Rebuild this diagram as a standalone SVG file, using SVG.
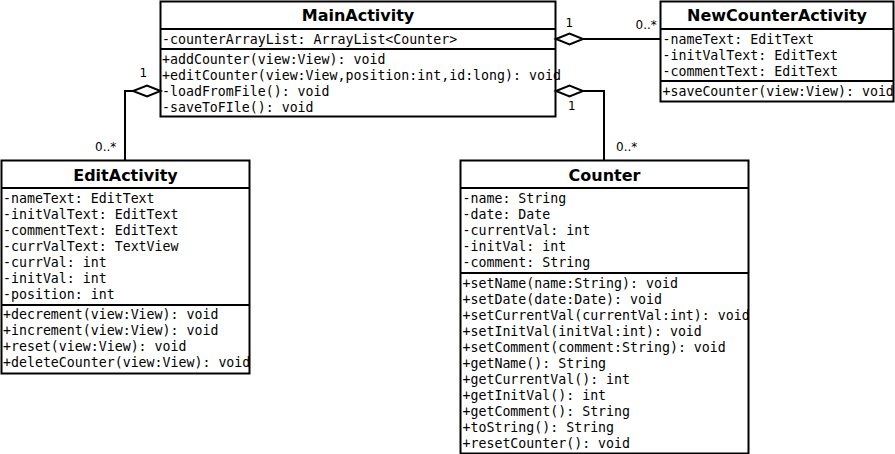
<svg xmlns="http://www.w3.org/2000/svg" width="895" height="454" viewBox="0 0 895 454">
<style>
.bg{fill:#fff;stroke:none}
.fr{fill:none;stroke:#000;stroke-width:2}
.sep{stroke:#000;stroke-width:2}
.title{font-family:"DejaVu Sans",sans-serif;font-weight:bold;font-size:16px;text-anchor:middle;fill:#000}
.m{font-family:"DejaVu Sans Mono",monospace;font-size:13.25px;fill:#000}
.lbl{font-family:"DejaVu Sans",sans-serif;font-size:12px;fill:#000}
.ln{fill:none;stroke:#000;stroke-width:2}
.dia{fill:#fff;stroke:#000;stroke-width:2;stroke-linejoin:miter}
</style>
<rect width="895" height="454" fill="#fff"/>

<g id="MainActivity">
<rect class="bg" x="160.5" y="1.5" width="395" height="115"/>
<text class="title" x="358" y="21">MainActivity</text>
<text class="m" x="162" y="43.5">-counterArrayList: ArrayList&lt;Counter&gt;</text>
<text class="m" x="162" y="63.5">+addCounter(view:View): void</text>
<text class="m" x="162" y="79.5">+editCounter(view:View,position:int,id:long): void</text>
<text class="m" x="162" y="95.5">-loadFromFile(): void</text>
<text class="m" x="162" y="111.5">-saveToFIle(): void</text>
<line class="sep" x1="160.5" y1="29" x2="555.5" y2="29"/>
<line class="sep" x1="160.5" y1="49" x2="555.5" y2="49"/>
<rect class="fr" x="160.5" y="1.5" width="395" height="115"/>
</g>

<g id="NewCounterActivity">
<rect class="bg" x="660.5" y="1.5" width="233" height="100"/>
<text class="title" x="777" y="20.5">NewCounterActivity</text>
<text class="m" x="662.5" y="43.5">-nameText: EditText</text>
<text class="m" x="662.5" y="59.5">-initValText: EditText</text>
<text class="m" x="662.5" y="75.5">-commentText: EditText</text>
<text class="m" x="662.5" y="95.5">+saveCounter(view:View): void</text>
<line class="sep" x1="660.5" y1="29" x2="893.5" y2="29"/>
<line class="sep" x1="660.5" y1="81" x2="893.5" y2="81"/>
<rect class="fr" x="660.5" y="1.5" width="233" height="100"/>
</g>

<g id="EditActivity">
<rect class="bg" x="1.5" y="160.5" width="248" height="213"/>
<text class="title" x="125.5" y="180.5">EditActivity</text>
<text class="m" x="3" y="203">-nameText: EditText</text>
<text class="m" x="3" y="219">-initValText: EditText</text>
<text class="m" x="3" y="235">-commentText: EditText</text>
<text class="m" x="3" y="251">-currValText: TextView</text>
<text class="m" x="3" y="267">-currVal: int</text>
<text class="m" x="3" y="283">-initVal: int</text>
<text class="m" x="3" y="299">-position: int</text>
<text class="m" x="3" y="319">+decrement(view:View): void</text>
<text class="m" x="3" y="335">+increment(view:View): void</text>
<text class="m" x="3" y="351">+reset(view:View): void</text>
<text class="m" x="3" y="367">+deleteCounter(view:View): void</text>
<line class="sep" x1="1.5" y1="188" x2="249.5" y2="188"/>
<line class="sep" x1="1.5" y1="305" x2="249.5" y2="305"/>
<rect class="fr" x="1.5" y="160.5" width="248" height="213"/>
</g>

<g id="Counter">
<rect class="bg" x="460.5" y="160.5" width="288" height="293"/>
<text class="title" x="604.5" y="180.5">Counter</text>
<text class="m" x="462.5" y="203">-name: String</text>
<text class="m" x="462.5" y="219">-date: Date</text>
<text class="m" x="462.5" y="235">-currentVal: int</text>
<text class="m" x="462.5" y="251">-initVal: int</text>
<text class="m" x="462.5" y="267">-comment: String</text>
<text class="m" x="462.5" y="287.5">+setName(name:String): void</text>
<text class="m" x="462.5" y="303.5">+setDate(date:Date): void</text>
<text class="m" x="462.5" y="319.5">+setCurrentVal(currentVal:int): void</text>
<text class="m" x="462.5" y="335.5">+setInitVal(initVal:int): void</text>
<text class="m" x="462.5" y="351.5">+setComment(comment:String): void</text>
<text class="m" x="462.5" y="367.5">+getName(): String</text>
<text class="m" x="462.5" y="383.5">+getCurrentVal(): int</text>
<text class="m" x="462.5" y="399.5">+getInitVal(): int</text>
<text class="m" x="462.5" y="415.5">+getComment(): String</text>
<text class="m" x="462.5" y="431.5">+toString(): String</text>
<text class="m" x="462.5" y="447.5">+resetCounter(): void</text>
<line class="sep" x1="460.5" y1="188" x2="748.5" y2="188"/>
<line class="sep" x1="460.5" y1="273" x2="748.5" y2="273"/>
<rect class="fr" x="460.5" y="160.5" width="288" height="293"/>
</g>

<g id="connectors">
<polyline class="ln" points="583,39 660.5,39"/>
<polygon class="dia" points="556,39 569.5,33.5 583,39 569.5,44.5"/>
<text class="lbl" x="565.5" y="27">1</text>
<text class="lbl" x="635.5" y="29">0..*</text>

<polyline class="ln" points="133,91 125,91 125,160.5"/>
<polygon class="dia" points="160.5,91 147,85.5 133,91 147,96.5"/>
<text class="lbl" x="139.5" y="77">1</text>
<text class="lbl" x="95" y="151">0..*</text>

<polyline class="ln" points="583,91 604,91 604,160.5"/>
<polygon class="dia" points="556,91 569.5,85.5 583,91 569.5,96.5"/>
<text class="lbl" x="568" y="110">1</text>
<text class="lbl" x="616" y="151">0..*</text>
</g>
</svg>
